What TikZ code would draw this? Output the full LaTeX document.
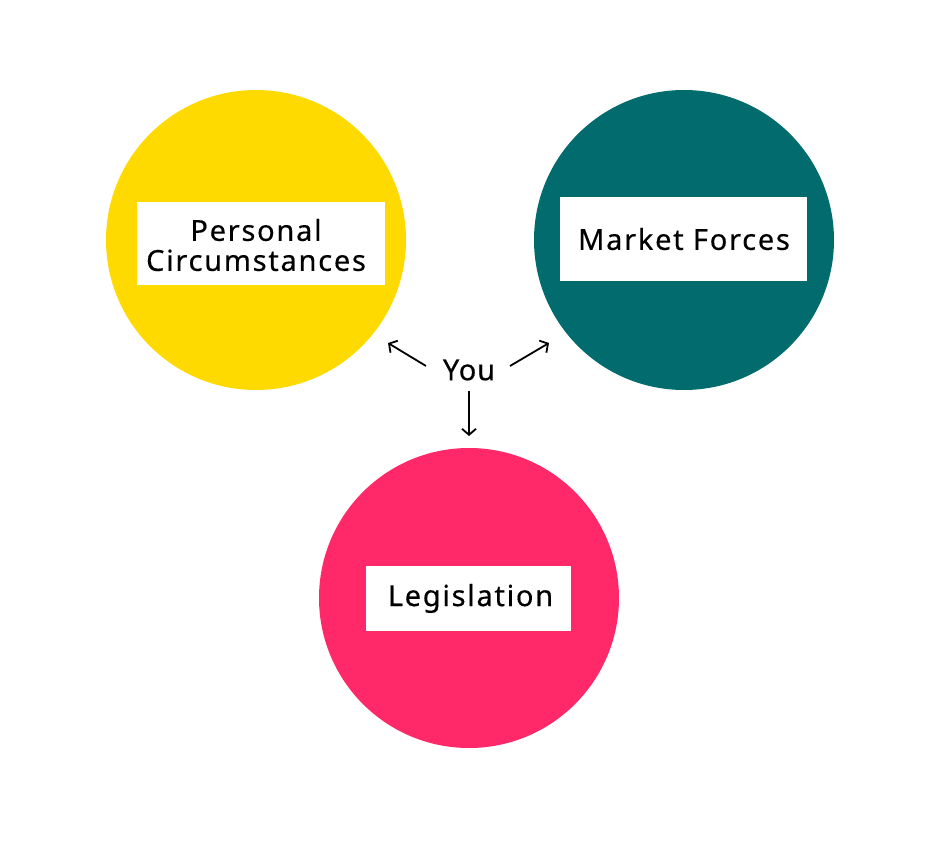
\documentclass[tikz,border=0pt]{standalone}
\usepackage{fontspec}
\setmainfont{Noto Sans}[LetterSpace=6, FakeBold=0.4]
\usetikzlibrary{arrows.meta}
\definecolor{cyellow}{HTML}{FFDA00}
\definecolor{cteal}{HTML}{026B6E}
\definecolor{cpink}{HTML}{FF2869}
\tikzset{
  bigcircle/.style={circle, minimum size=300pt, inner sep=0pt, draw=none},
  labelbox/.style={fill=white, inner sep=0pt},
  labeltext/.style={inner sep=0pt, align=center, font=\fontsize{29}{30}\selectfont},
  arr/.style={line width=1.8pt, -{Straight Barb[length=6pt,width=14pt,line width=1.8pt]}}
}
\begin{document}
\begin{tikzpicture}[x=1pt,y=-1pt]
\useasboundingbox (0,0) rectangle (938,845);
\node[bigcircle, fill=cyellow] (pc) at (256,240) {};
\node[bigcircle, fill=cteal] (mf) at (684,240) {};
\node[bigcircle, fill=cpink] (lg) at (469,598) {};
\node[labelbox, minimum width=248pt, minimum height=83pt] (pcb) at (261,243.5) {};
\node[labelbox, minimum width=247pt, minimum height=84pt] (mfb) at (683.5,239) {};
\node[labelbox, minimum width=205pt, minimum height=65pt] (lgb) at (468.5,598.5) {};
\node[labeltext] (pcl) at (256,245) {Personal\\Circumstances};
\node[labeltext] (mfl) at (684,239) {Market Forces};
\node[labeltext] (lgl) at (470.5,598.5) {Legislation};
\node[font=\fontsize{29}{30}\selectfont\addfontfeature{LetterSpace=3}] (you) at (469,370) {You};
\coordinate (s1) at (426,366);
\coordinate (e1) at (388,343);
\coordinate (s2) at (510,366);
\coordinate (e2) at (549,343);
\coordinate (s3) at (469,391);
\coordinate (e3) at (469,436);
\draw[arr] (s1) -- (e1);
\draw[arr] (s2) -- (e2);
\draw[arr] (s3) -- (e3);
\end{tikzpicture}
\end{document}
